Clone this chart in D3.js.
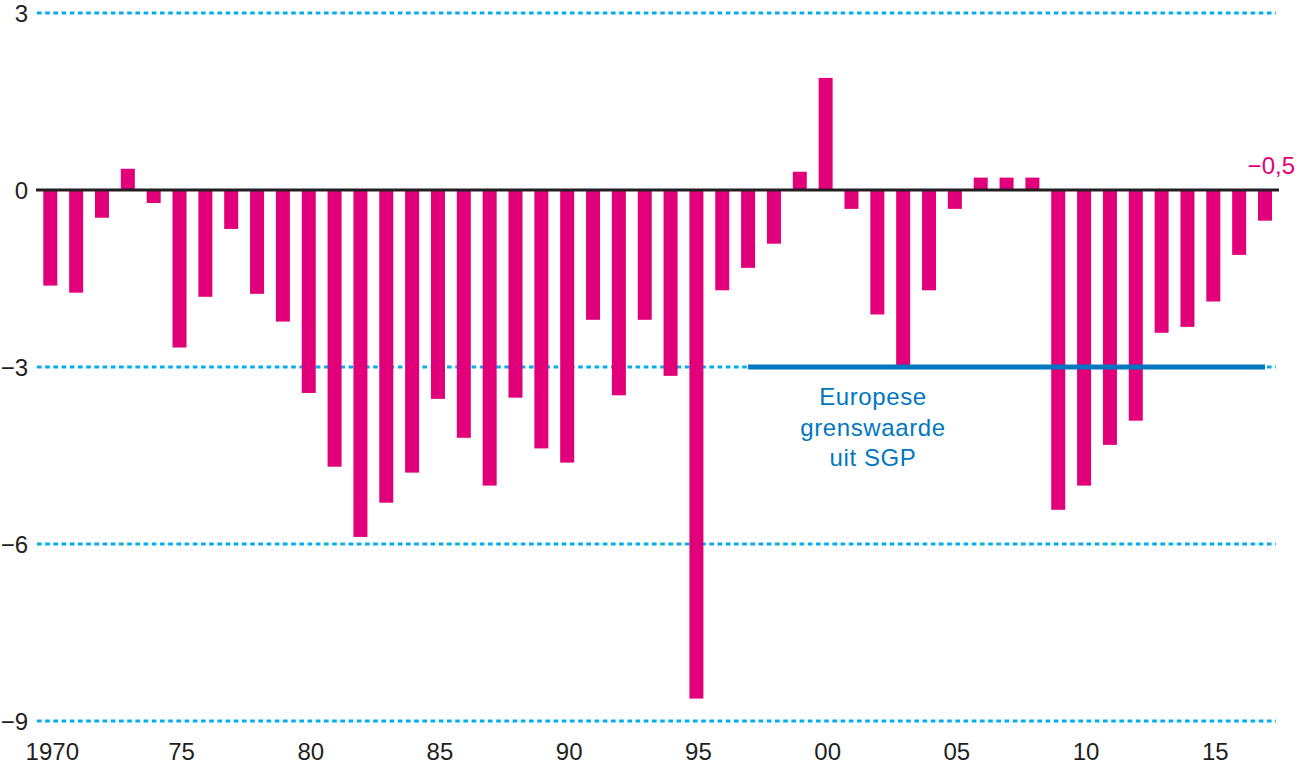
<!DOCTYPE html>
<html>
<head>
<meta charset="utf-8">
<script src="https://cdn.jsdelivr.net/npm/d3@7/dist/d3.min.js"></script>
<style>
  html, body { margin: 0; padding: 0; background: #ffffff; }
  svg { display: block; }
  text { font-family: "Liberation Sans", Arial, sans-serif; }
</style>
</head>
<body>
<svg id="chart" width="1296" height="768"></svg>
<script>
// ---- Data ----
const years = d3.range(1970, 2018);
const balance = [
  -1.62, -1.74, -0.47, 0.36, -0.22, -2.67, -1.81, -0.66, -1.76, -2.23,
  -3.44, -4.69, -5.88, -5.30, -4.79, -3.54, -4.20, -5.01, -3.52, -4.38,
  -4.62, -2.20, -3.48, -2.20, -3.15, -8.62, -1.70, -1.32, -0.91, 0.31,
  1.90, -0.32, -2.11, -2.97, -1.70, -0.32, 0.21, 0.21, 0.21, -5.42,
  -5.01, -4.32, -3.91, -2.42, -2.32, -1.89, -1.10, -0.52
];
const yTicks = [3, 0, -3, -6, -9];
const yTickLabels = ["3", "0", "\u22123", "\u22126", "\u22129"];
const gridValues = [3, -3, -6, -9];
const xTickYears = [1970, 1975, 1980, 1985, 1990, 1995, 2000, 2005, 2010, 2015];
const xTickLabels = ["1970", "75", "80", "85", "90", "95", "00", "05", "10", "15"];
const sgpLimit = -3;
const sgpYears = [1997, 2017];
const sgpLabel = ["Europese", "grenswaarde", "uit SGP"];
const lastLabel = "\u22120,5";

// ---- Scales ----
const svg = d3.select("#chart");
const x = d3.scaleLinear().domain([1970, 2017]).range([50.3, 1265]);
const y = d3.scaleLinear().domain([-9, 3]).range([721, 13]);
const barW = 14;

const magenta = "#e2007a";
const cyan = "#00aeef";
const blue = "#0077c0";
const ink = "#231f20";
const fs = 24;

// grid lines
svg.append("g").selectAll("line").data(gridValues).join("line")
  .attr("x1", 37).attr("x2", 1276)
  .attr("y1", d => y(d)).attr("y2", d => y(d))
  .attr("stroke", cyan).attr("stroke-width", 3)
  .attr("stroke-dasharray", "4.6,3.6");

// bars
svg.append("g").selectAll("rect").data(years).join("rect")
  .attr("x", (d) => x(d) - barW / 2)
  .attr("width", barW)
  .attr("y", (d, i) => balance[i] >= 0 ? y(balance[i]) : y(0))
  .attr("height", (d, i) => Math.abs(y(balance[i]) - y(0)))
  .attr("fill", magenta);

// zero line
svg.append("line")
  .attr("x1", 36).attr("x2", 1279)
  .attr("y1", y(0)).attr("y2", y(0))
  .attr("stroke", ink).attr("stroke-width", 3);

// SGP line
svg.append("line")
  .attr("x1", x(sgpYears[0])).attr("x2", x(sgpYears[1]))
  .attr("y1", y(sgpLimit)).attr("y2", y(sgpLimit))
  .attr("stroke", blue).attr("stroke-width", 5);

// SGP label
const lab = svg.append("text")
  .attr("x", 873).attr("y", 405)
  .attr("text-anchor", "middle")
  .attr("fill", blue)
  .attr("font-size", fs)
  .attr("letter-spacing", 0.6);
sgpLabel.forEach((t, i) => {
  lab.append("tspan").attr("x", 873).attr("dy", i === 0 ? 0 : 30.5).text(t);
});

// y tick labels
svg.append("g").selectAll("text").data(yTicks).join("text")
  .attr("x", 28)
  .attr("y", d => y(d) + 8.5)
  .attr("text-anchor", "end")
  .attr("font-size", fs)
  .attr("fill", ink)
  .text((d, i) => yTickLabels[i]);

// x tick labels
svg.append("g").selectAll("text").data(xTickYears).join("text")
  .attr("x", d => x(d) + 2)
  .attr("y", 760)
  .attr("text-anchor", "middle")
  .attr("font-size", fs)
  .attr("fill", ink)
  .text((d, i) => xTickLabels[i]);

// last value label
svg.append("text")
  .attr("x", 1295).attr("y", 174)
  .attr("text-anchor", "end")
  .attr("font-size", fs)
  .attr("fill", magenta)
  .text(lastLabel);
</script>
</body>
</html>
